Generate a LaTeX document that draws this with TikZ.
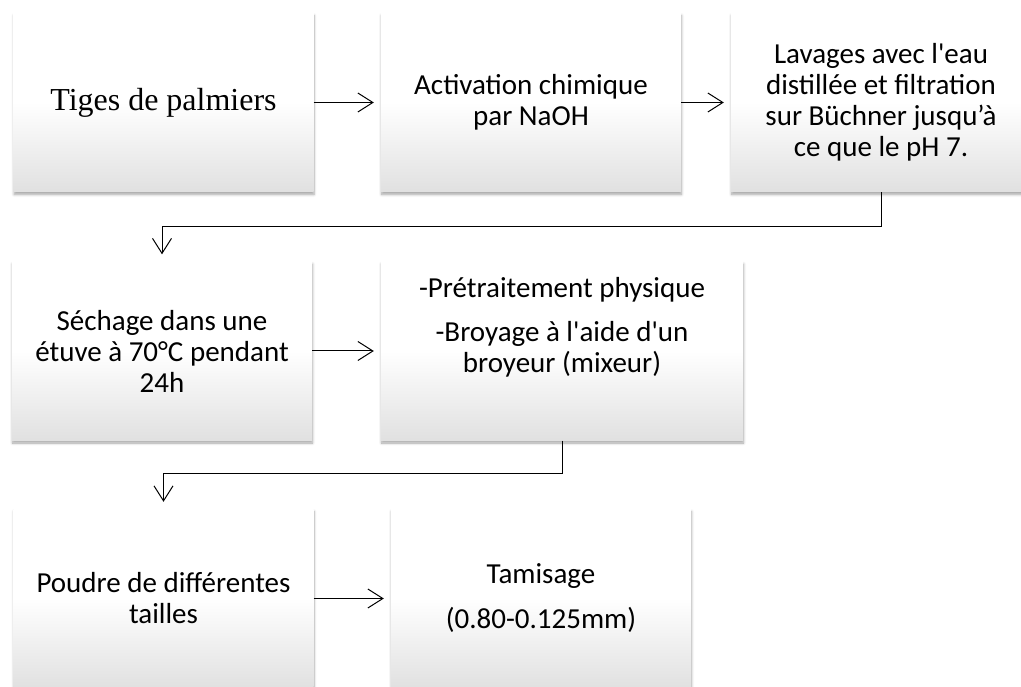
\documentclass[tikz,border=0pt]{standalone}
\usepackage{fontspec}
\setmainfont{Carlito}
\newfontfamily\timesfont{Liberation Serif}
\usetikzlibrary{arrows.meta,shadows.blur}
\tikzset{
etape/.style={rectangle,minimum width=300pt,minimum height=179pt,inner sep=0pt,
  text width=290pt,align=flush center,
  top color=white,bottom color=black!12,middle color=white,
  blur shadow={shadow xshift=0.5pt,shadow yshift=-2.5pt,shadow blur radius=2.5pt,shadow blur steps=6,shadow opacity=35},
  font=\fontsize{29}{31}\selectfont},
fleche/.style={line width=1pt,-{Straight Barb[length=15pt,width=19pt]},shorten >=7pt},
}

\begin{document}
\begin{tikzpicture}[x=1pt,y=-1pt]
\useasboundingbox (0,0) rectangle (1021,687);
\clip (0,0) rectangle (1021,687);

\node[etape,font=\timesfont\fontsize{32}{36}\selectfont] (tiges) at (163.5,102.5) {Tiges de palmiers};
\node[etape] (activation) at (531,102.5) {Activation chimique\\ par NaOH};
\node[etape] (lavages) at (881,102.5)
  {Lavages avec l\textquotesingle eau\\ distillée et filtration\\ sur Büchner jusqu’à\\ ce que le pH 7.};
\node[etape] (sechage) at (162,351) {Séchage dans une\\ étuve à 70°C pendant\\ 24h};
\node[etape,minimum width=362pt,text width=352pt] (broyage) at (562,351)
  {-Prétraitement physique\\[13pt] -Broyage à l\textquotesingle aide d\textquotesingle un\\ broyeur (mixeur)\\[21pt]~};
\node[etape] (poudre) at (163.5,598.5) {Poudre de différentes\\ tailles};
\node[etape] (tamisage) at (541,598.5) {Tamisage\\[14pt] (0.80-0.125mm)};

\draw[fleche] (tiges) -- (activation);
\draw[fleche] (activation) -- (lavages);
\draw[fleche] (lavages.south) -- ++(0,34) -| (sechage.north);
\draw[fleche] (sechage) -- (broyage);
\draw[fleche] (broyage.south) -- ++(0,33) -| (poudre.north);
\draw[fleche] (poudre) -- (tamisage);
\end{tikzpicture}
\end{document}
